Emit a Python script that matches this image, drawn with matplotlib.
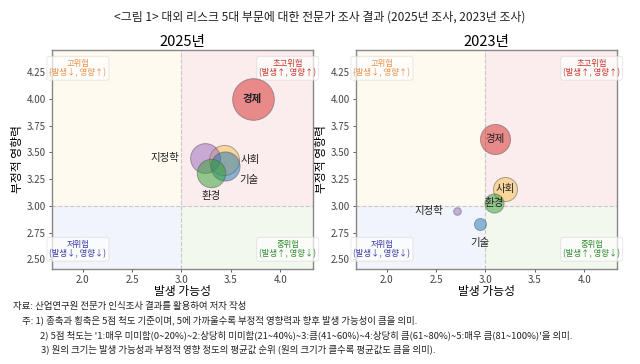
import matplotlib.pyplot as plt

plt.rcParams['font.family'] = ['Noto Sans CJK KR', 'DejaVu Sans']

# 데이터
sectors = ['경제', '사회', '기술', '지정학', '환경']
colors = ['#d62728', '#f5c04a', '#1f77b4', '#9467bd', '#2ca02c']

x_2025 = [3.72, 3.43, 3.44, 3.24, 3.30]
y_2025 = [4.00, 3.43, 3.37, 3.45, 3.31]
s_2025 = [900, 470, 440, 460, 420]

x_2023 = [3.10, 3.20, 2.95, 2.71, 3.09]
y_2023 = [3.63, 3.16, 2.835, 2.95, 3.03]
s_2023 = [470, 300, 75, 30, 190]

# 라벨 위치 (offset points)
off_2025 = {'경제': (0, 0), '사회': (19, 0), '기술': (17, -10), '지정학': (-29, 0), '환경': (0, -17)}
off_2023 = {'경제': (0, 0), '사회': (0, 0), '기술': (0, -14), '지정학': (-20, 0), '환경': (0, 0)}

quad_labels = [
    (0.10, 0.916, '고위험\n(발생↓, 영향↑)', '#e8904a'),
    (0.903, 0.916, '초고위험\n(발생↑, 영향↑)', '#c0392b'),
    (0.10, 0.09, '저위험\n(발생↓, 영향↓)', '#3a3aa8'),
    (0.903, 0.09, '중위험\n(발생↑, 영향↓)', '#2e8b2e'),
]

fig = plt.figure(figsize=(6.4, 3.64), dpi=100)
ax1 = fig.add_axes([0.081, 0.261, 0.408, 0.602])
ax2 = fig.add_axes([0.556, 0.261, 0.408, 0.602])


def draw_panel(ax, xs, ys, ss, offs, title, bold_main):
    x0, x1 = 1.69, 4.33
    y0, y1 = 2.41, 4.46
    ax.set_xlim(x0, x1)
    ax.set_ylim(y0, y1)
    # 사분면 배경
    ax.fill_between([x0, 3], 3, y1, color='#fffaf0', zorder=0)
    ax.fill_between([3, x1], 3, y1, color='#fbeced', zorder=0)
    ax.fill_between([x0, 3], y0, 3, color='#f1f4fb', zorder=0)
    ax.fill_between([3, x1], y0, 3, color='#f2f8ee', zorder=0)
    ax.axvline(3, color='#c8c8c8', lw=0.8, ls='--', zorder=1)
    ax.axhline(3, color='#c8c8c8', lw=0.8, ls='--', zorder=1)

    for tx, ty, txt, c in quad_labels:
        ax.text(tx, ty, txt, transform=ax.transAxes, ha='center', va='center',
                fontsize=6, color=c, linespacing=1.1,
                bbox=dict(boxstyle='round,pad=0.3', fc='white', ec='#dddddd', alpha=0.7, lw=0.7))

    # 원을 큰 순서대로 그려서 작은 원이 위에 보이게
    order = sorted(range(len(sectors)), key=lambda i: -ss[i])
    for k, i in enumerate(order):
        ax.scatter(xs[i], ys[i], s=ss[i], color=colors[i], alpha=0.5,
                   edgecolor='#555555', linewidth=0.7, zorder=3 + k)

    for i, name in enumerate(sectors):
        dx, dy = offs[name]
        weight = 'bold' if (bold_main and name == '경제') else 'normal'
        ax.annotate(name, (xs[i], ys[i]), xytext=(dx, dy), textcoords='offset points',
                    ha='center', va='center', fontsize=7.5, color='#222222', zorder=20,
                    fontweight=weight)

    ax.set_xticks([2.0, 2.5, 3.0, 3.5, 4.0])
    ax.set_yticks([2.50, 2.75, 3.00, 3.25, 3.50, 3.75, 4.00, 4.25])
    ax.set_xticklabels(['2.0', '2.5', '3.0', '3.5', '4.0'])
    ax.set_yticklabels(['2.50', '2.75', '3.00', '3.25', '3.50', '3.75', '4.00', '4.25'])
    ax.tick_params(labelsize=7, colors='#444444', length=2.5, width=0.6, pad=2)
    for sp in ax.spines.values():
        sp.set_color('#888888')
        sp.set_linewidth(1.0)
    ax.set_title(title, fontsize=10.5, pad=3)
    ax.set_xlabel('발생 가능성', fontsize=8.5, labelpad=0)
    ax.set_ylabel('부정적 영향력', fontsize=8.5, labelpad=2)


draw_panel(ax1, x_2025, y_2025, s_2025, off_2025, '2025년', True)
draw_panel(ax2, x_2023, y_2023, s_2023, off_2023, '2023년', False)

fig.text(0.5, 0.952, '<그림 1> 대외 리스크 5대 부문에 대한 전문가 조사 결과 (2025년 조사, 2023년 조사)',
         ha='center', va='center', fontsize=8.6, color='#222222')

notes = [
    (0.020, 0.158, '자료: 산업연구원 전문가 인식조사 결과를 활용하여 저자 작성'),
    (0.034, 0.119, '주: 1) 종축과 횡축은 5점 척도 기준이며, 5에 가까울수록 부정적 영향력과 향후 발생 가능성이 큼을 의미.'),
    (0.062, 0.080, "2) 5점 척도는 '1:매우 미미함(0~20%)~2:상당히 미미함(21~40%)~3:큼(41~60%)~4:상당히 큼(61~80%)~5:매우 큼(81~100%)'을 의미."),
    (0.064, 0.041, '3) 원의 크기는 발생 가능성과 부정적 영향 정도의 평균값 순위 (원의 크기가 클수록 평균값도 큼을 의미).'),
]
for nx, ny, txt in notes:
    fig.text(nx, ny, txt, ha='left', va='center', fontsize=6.8, color='#222222')

fig.savefig('out.png', dpi=100)
